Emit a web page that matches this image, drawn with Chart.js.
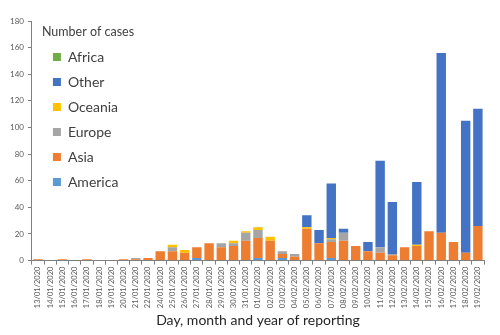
<!DOCTYPE html>
<html>
<head>
<meta charset="utf-8">
<script src="https://cdn.jsdelivr.net/npm/chart.js@4"></script>
<style>
    html, body { margin: 0; padding: 0; background: #fff; }
    #wrap { width: 500px; height: 335px; }
</style>
</head>
<body>
<div id="wrap"><canvas id="cases-chart"></canvas></div>
<script>
var dates = [
    '13/01/2020', '14/01/2020', '15/01/2020', '16/01/2020', '17/01/2020', '18/01/2020',
    '19/01/2020', '20/01/2020', '21/01/2020', '22/01/2020', '24/01/2020', '25/01/2020',
    '26/01/2020', '27/01/2020', '28/01/2020', '29/01/2020', '30/01/2020', '31/01/2020',
    '01/02/2020', '02/02/2020', '03/02/2020', '04/02/2020', '05/02/2020', '06/02/2020',
    '07/02/2020', '08/02/2020', '09/02/2020', '10/02/2020', '11/02/2020', '12/02/2020',
    '13/02/2020', '14/02/2020', '15/02/2020', '16/02/2020', '17/02/2020', '18/02/2020',
    '19/02/2020'
];

var america = [0, 0, 0, 0, 0, 0, 0, 0, 0, 0, 0, 0, 0, 2, 0, 0, 0, 0, 2, 0, 2, 0, 0, 0, 2, 0, 0, 0, 0, 0, 0, 0, 0, 0, 0, 0, 0];
var asia    = [1, 0, 1, 0, 1, 0, 0, 1, 1, 2, 7, 7, 6, 8, 13, 10, 11, 15, 15, 15, 3, 3, 24, 13, 12, 15, 11, 7, 6, 4, 10, 11, 22, 21, 14, 6, 26];
var europe  = [0, 0, 0, 0, 0, 0, 0, 0, 1, 0, 0, 3, 0, 0, 0, 3, 2, 6, 6, 0, 2, 2, 0, 0, 2, 6, 0, 0, 4, 1, 0, 0, 0, 0, 0, 0, 0];
var oceania = [0, 0, 0, 0, 0, 0, 0, 0, 0, 0, 0, 2, 2, 0, 0, 0, 2, 1, 2, 3, 0, 0, 1, 0, 1, 0, 0, 0, 0, 0, 0, 1, 0, 0, 0, 0, 0];
var other   = [0, 0, 0, 0, 0, 0, 0, 0, 0, 0, 0, 0, 0, 0, 0, 0, 0, 0, 0, 0, 0, 0, 9, 10, 41, 3, 0, 7, 65, 39, 0, 47, 0, 135, 0, 99, 88];
var africa  = [0, 0, 0, 0, 0, 0, 0, 0, 0, 0, 0, 0, 0, 0, 0, 0, 0, 0, 0, 0, 0, 0, 0, 0, 0, 0, 0, 0, 0, 0, 0, 0, 0, 0, 0, 0, 0];

var yTicks = [0, 20, 40, 60, 80, 100, 120, 140, 160, 180];

var fontFamily = 'Lato, "Open Sans", sans-serif';
var axisColor = '#7f7f7f';
var textColor = '#595959';

function series(label, data, color) {
    return {
        label: label,
        data: data,
        backgroundColor: color,
        borderWidth: 0,
        barPercentage: 0.77,
        categoryPercentage: 1
    };
}

// nudge the in-plot legend a little to the right, like the original
var legendShift = {
    id: 'legendShift',
    afterLayout: function (chart) {
        var legend = chart.legend;
        if (legend) {
            legend.left += 10;
            legend.right += 10;
        }
    }
};

var ctx = document.getElementById('cases-chart').getContext('2d');
var casesChart = new Chart(ctx, {
    type: 'bar',
    data: {
        labels: dates,
        datasets: [
            series('America', america, '#5B9BD5'),
            series('Asia', asia, '#ED7D31'),
            series('Europe', europe, '#A5A5A5'),
            series('Oceania', oceania, '#FFC000'),
            series('Other', other, '#4472C4'),
            series('Africa', africa, '#70AD47')
        ]
    },
    plugins: [legendShift],
    options: {
        responsive: true,
        maintainAspectRatio: false,
        animation: false,
        layout: {
            padding: { left: 6, right: 16, top: 21, bottom: 6 }
        },
        scales: {
            x: {
                stacked: true,
                grid: {
                    display: true,
                    drawOnChartArea: false,
                    drawTicks: true,
                    tickLength: 4,
                    color: axisColor
                },
                border: { color: axisColor, width: 1 },
                ticks: {
                    autoSkip: false,
                    minRotation: 90,
                    maxRotation: 90,
                    padding: 2,
                    color: textColor,
                    font: { family: fontFamily, size: 7.5 }
                },
                title: {
                    display: true,
                    text: 'Day, month and year of reporting',
                    color: '#262626',
                    padding: { top: 2, bottom: 0 },
                    font: { family: fontFamily, size: 14 }
                }
            },
            y: {
                stacked: true,
                min: 0,
                max: 180,
                afterBuildTicks: function (axis) {
                    axis.ticks = yTicks.map(function (v) { return { value: v }; });
                },
                grid: {
                    display: true,
                    drawOnChartArea: false,
                    drawTicks: true,
                    tickLength: 4,
                    color: axisColor
                },
                border: { color: axisColor, width: 1 },
                ticks: {
                    padding: 4,
                    color: textColor,
                    font: { family: fontFamily, size: 8 }
                }
            }
        },
        plugins: {
            legend: {
                position: 'chartArea',
                align: 'start',
                reverse: true,
                title: {
                    display: true,
                    position: 'start',
                    text: 'Number of cases',
                    color: '#404040',
                    padding: { top: 26, bottom: -2 },
                    font: { family: fontFamily, size: 12.5 }
                },
                labels: {
                    boxWidth: 8,
                    boxHeight: 8,
                    padding: 11,
                    color: '#404040',
                    font: { family: fontFamily, size: 14 }
                }
            },
            tooltip: { enabled: false }
        }
    }
});
</script>
</body>
</html>
